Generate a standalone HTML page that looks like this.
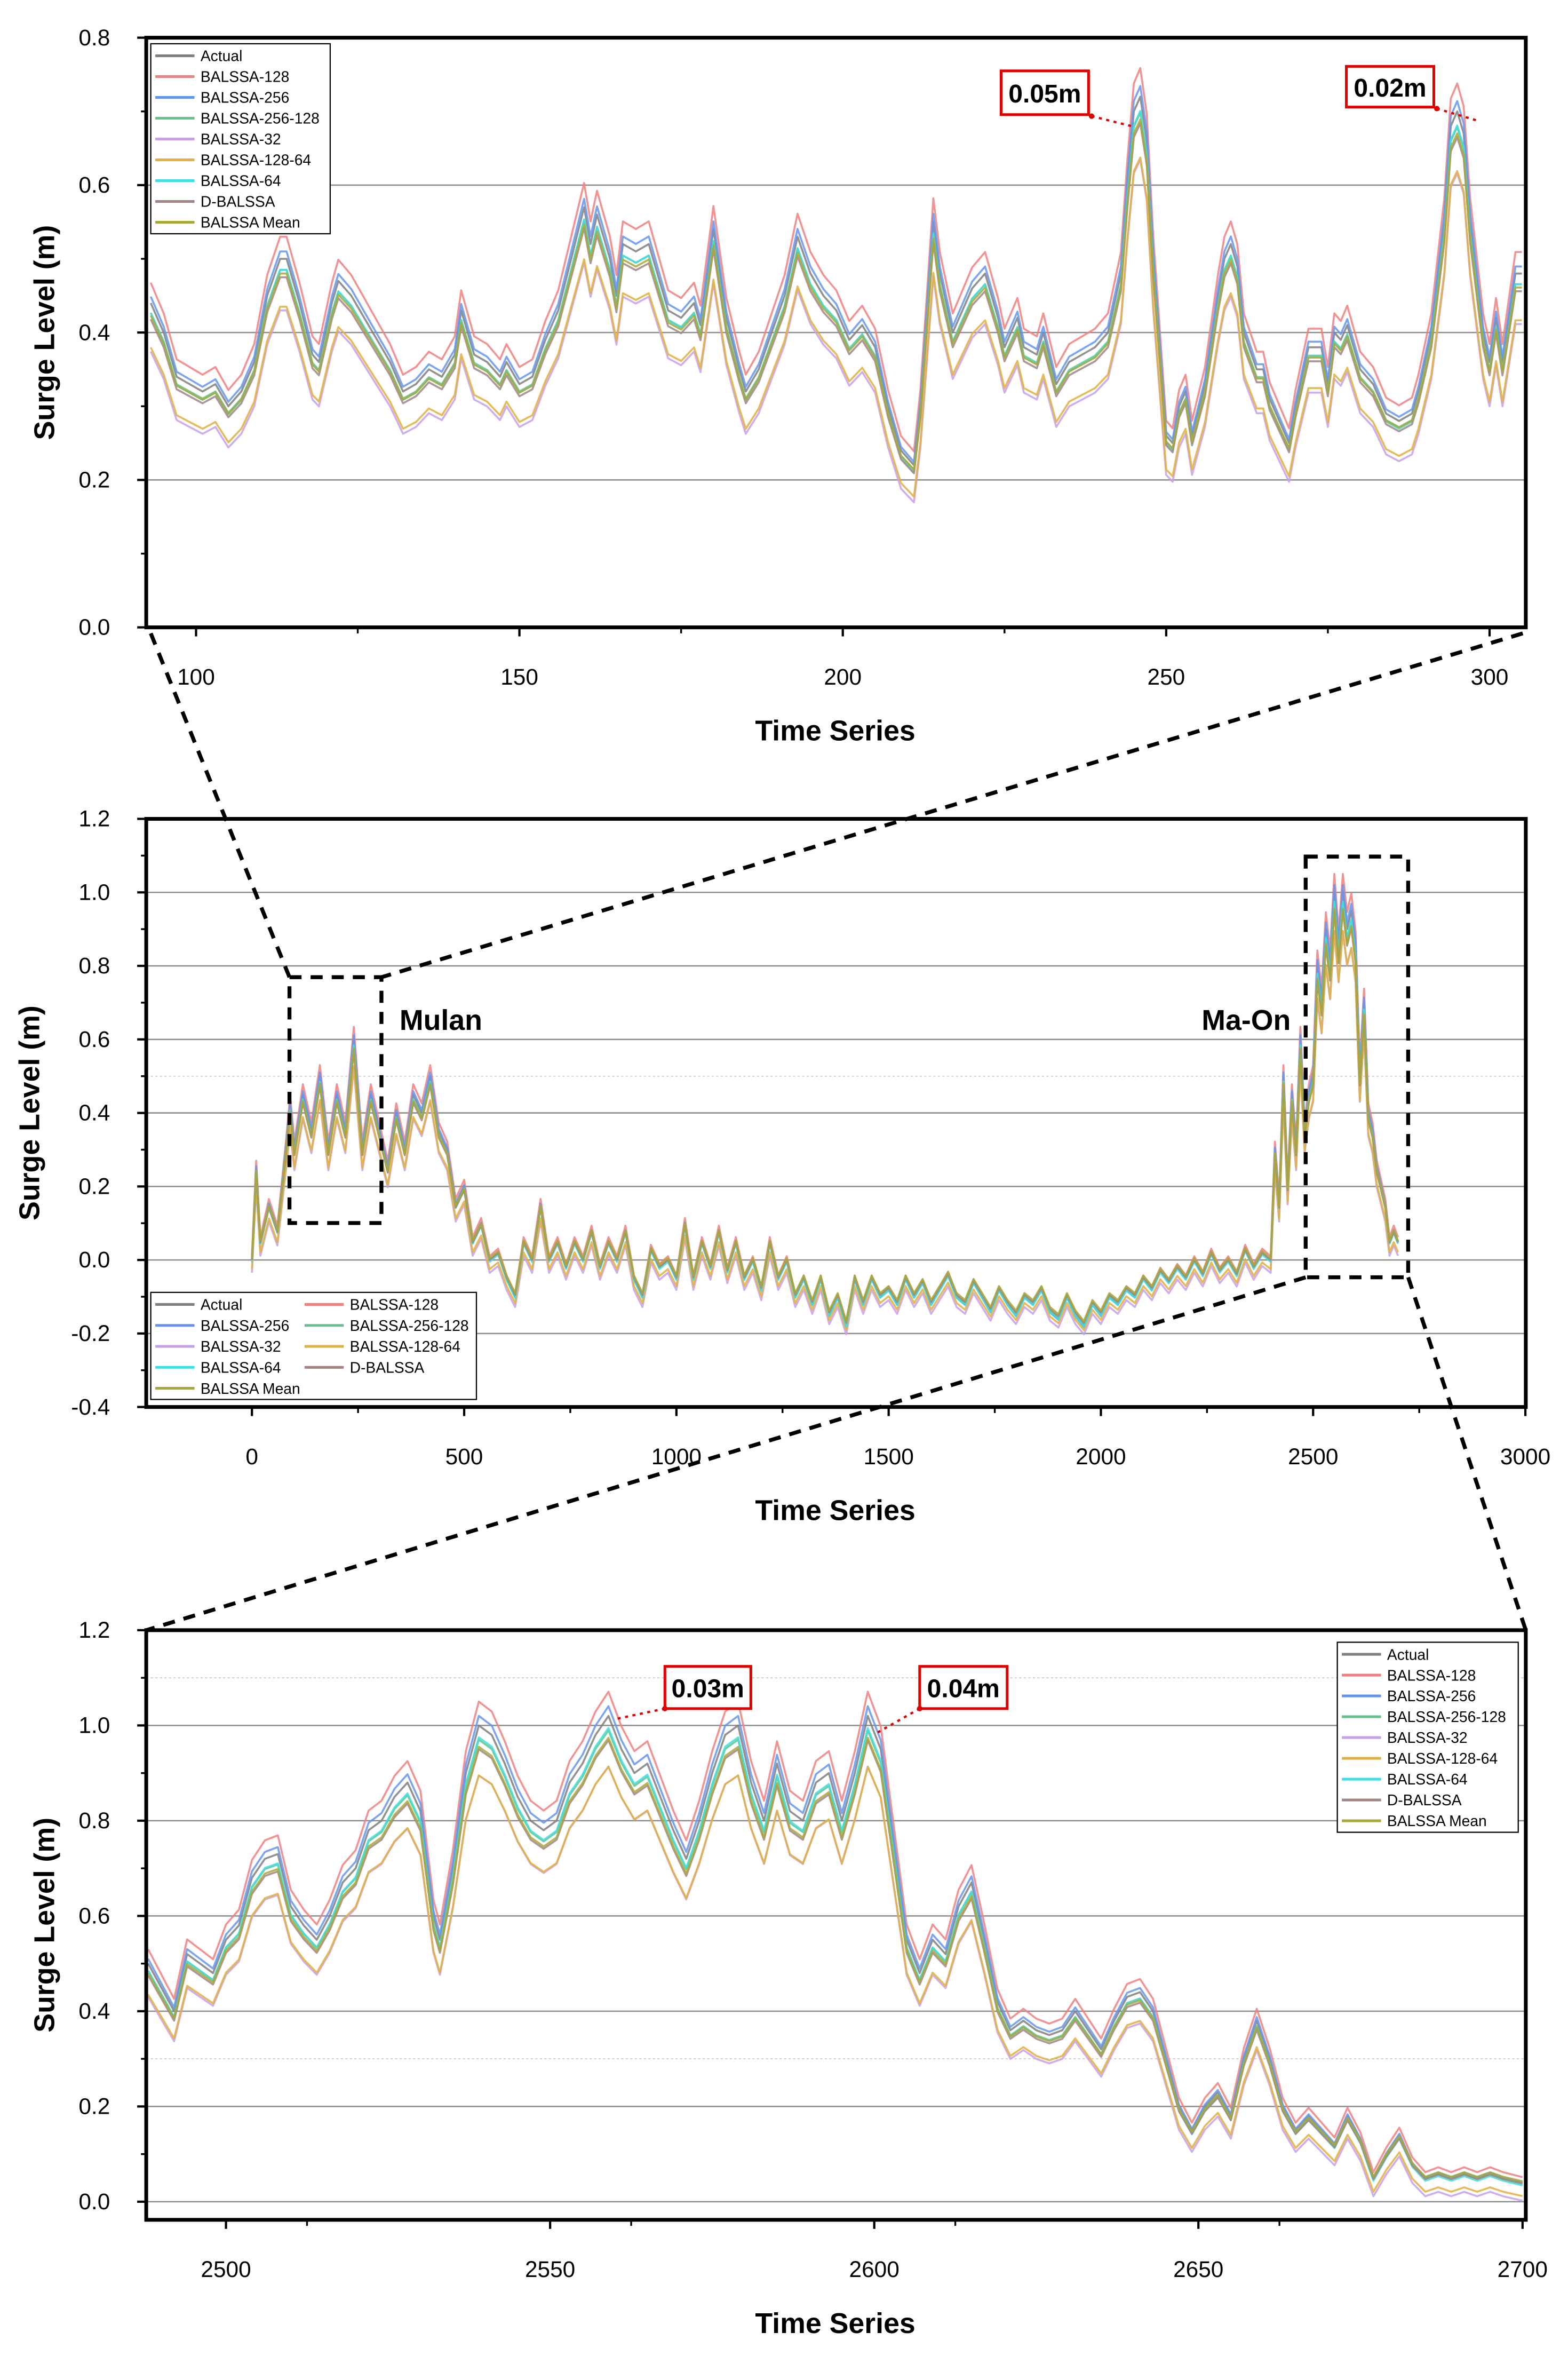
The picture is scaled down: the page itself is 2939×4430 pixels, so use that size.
<!DOCTYPE html>
<html><head><meta charset="utf-8">
<style>
html,body{margin:0;padding:0;background:#fff;}
svg{display:block;font-family:"Liberation Sans",Arial,sans-serif;}
</style></head>
<body>
<svg id="chart" width="2939" height="4430" viewBox="0 0 1040 1567.6" xmlns="http://www.w3.org/2000/svg"></svg>
<script>
// ---- data ----
const seriesNames = ["Actual","BALSSA-128","BALSSA-256","BALSSA-256-128","BALSSA-32","BALSSA-128-64","BALSSA-64","D-BALSSA","BALSSA Mean"];
const seriesColors = ["#7f7f7f","#f08080","#6495ed","#66c28a","#c8a0e8","#e0b040","#40dede","#a08585","#a8a838"];
const seriesScale = [1.00,1.04,1.02,0.97,0.93,0.92,0.98,0.95,0.95];
const seriesShift = [0.00,0.01,0.00,0.00,-0.035,-0.025,-0.005,0.00,0.005];

const topX = [93,95,97,99,101,103,105,107,109,111,113,114,116,118,119,121,122,124,126,128,130,132,134,136,138,140,141,143,145,147,148,150,152,154,156,158,160,161,162,164,165,166,168,170,172,173,175,177,178,180,182,184,185,187,189,191,192,193,195,197,199,201,203,205,207,209,211,212,214,215,217,218,220,222,224,225,227,228,230,231,233,235,237,239,241,243,244,245,246,247,248,250,251,252,253,254,256,258,259,260,261,262,264,265,266,268,269,270,272,274,275,276,277,278,280,282,284,286,288,289,291,293,294,295,296,297,299,300,301,302,304,305];
const topY = [0.44,0.40,0.34,0.33,0.32,0.33,0.30,0.32,0.36,0.45,0.50,0.50,0.44,0.37,0.36,0.44,0.47,0.45,0.42,0.39,0.36,0.32,0.33,0.35,0.34,0.37,0.43,0.37,0.36,0.34,0.36,0.33,0.34,0.39,0.43,0.50,0.57,0.52,0.56,0.50,0.45,0.52,0.51,0.52,0.46,0.43,0.42,0.44,0.41,0.54,0.42,0.35,0.32,0.35,0.40,0.45,0.49,0.53,0.48,0.45,0.43,0.39,0.41,0.38,0.30,0.24,0.22,0.30,0.55,0.48,0.40,0.42,0.46,0.48,0.42,0.38,0.42,0.38,0.37,0.40,0.33,0.36,0.37,0.38,0.40,0.48,0.60,0.70,0.72,0.66,0.50,0.26,0.25,0.30,0.32,0.26,0.33,0.45,0.50,0.52,0.49,0.40,0.35,0.35,0.31,0.27,0.25,0.30,0.38,0.38,0.33,0.40,0.39,0.41,0.35,0.33,0.29,0.28,0.29,0.32,0.40,0.55,0.68,0.70,0.67,0.55,0.40,0.36,0.42,0.36,0.48,0.48];

const midX = [0,10,20,40,60,80,90,100,120,140,160,180,200,220,240,260,280,300,320,340,360,380,400,420,440,460,480,500,520,540,560,580,600,620,640,660,680,700,720,740,760,780,800,820,840,860,880,900,920,940,960,980,1000,1020,1040,1060,1080,1100,1120,1140,1160,1180,1200,1220,1240,1260,1280,1300,1320,1340,1360,1380,1400,1420,1440,1460,1480,1500,1520,1540,1560,1580,1600,1620,1640,1660,1680,1700,1720,1740,1760,1780,1800,1820,1840,1860,1880,1900,1920,1940,1960,1980,2000,2020,2040,2060,2080,2100,2120,2140,2160,2180,2200,2220,2240,2260,2280,2300,2320,2340,2360,2380,2400,2410,2420,2430,2440,2450,2460,2470,2480,2490,2500,2510,2520,2530,2540,2550,2560,2570,2580,2590,2600,2610,2620,2630,2640,2650,2660,2670,2680,2690,2700];
const midY = [0.0,0.25,0.05,0.15,0.08,0.3,0.42,0.3,0.45,0.35,0.5,0.3,0.45,0.35,0.6,0.3,0.45,0.35,0.25,0.4,0.3,0.45,0.4,0.5,0.35,0.3,0.15,0.2,0.05,0.1,0.0,0.02,-0.05,-0.1,0.05,0.0,0.15,0.0,0.05,-0.02,0.05,0.0,0.08,-0.02,0.05,0.0,0.08,-0.05,-0.1,0.03,-0.02,0.0,-0.05,0.1,-0.05,0.05,-0.02,0.08,-0.03,0.05,-0.05,0.0,-0.08,0.05,-0.05,0.0,-0.1,-0.05,-0.12,-0.05,-0.15,-0.1,-0.18,-0.05,-0.12,-0.05,-0.1,-0.08,-0.12,-0.05,-0.1,-0.06,-0.12,-0.08,-0.04,-0.1,-0.12,-0.06,-0.1,-0.14,-0.08,-0.12,-0.15,-0.1,-0.12,-0.08,-0.14,-0.16,-0.1,-0.15,-0.18,-0.12,-0.15,-0.1,-0.12,-0.08,-0.1,-0.05,-0.08,-0.03,-0.06,-0.02,-0.05,0.0,-0.04,0.02,-0.03,0.0,-0.04,0.03,-0.02,0.02,0.0,0.3,0.15,0.5,0.2,0.45,0.3,0.6,0.35,0.45,0.5,0.8,0.7,0.9,0.8,1.0,0.85,1.0,0.9,0.95,0.85,0.5,0.7,0.4,0.35,0.25,0.2,0.15,0.05,0.08,0.05];

const botX = [2488,2490,2492,2494,2496,2498,2500,2502,2504,2506,2508,2510,2512,2514,2516,2518,2520,2522,2524,2526,2528,2530,2532,2533,2535,2537,2539,2541,2543,2545,2547,2549,2551,2553,2555,2557,2559,2561,2563,2565,2567,2569,2571,2573,2575,2577,2579,2581,2583,2585,2587,2589,2591,2593,2595,2597,2599,2601,2603,2605,2607,2609,2611,2613,2615,2617,2619,2621,2623,2625,2627,2629,2631,2633,2635,2637,2639,2641,2643,2645,2647,2649,2651,2653,2655,2657,2659,2661,2663,2665,2667,2669,2671,2673,2675,2677,2679,2681,2683,2685,2687,2689,2691,2693,2695,2697,2700];
const botY = [0.50,0.45,0.40,0.52,0.50,0.48,0.55,0.58,0.68,0.72,0.73,0.62,0.58,0.55,0.60,0.67,0.70,0.78,0.80,0.85,0.88,0.82,0.60,0.55,0.70,0.90,1.00,0.98,0.92,0.85,0.80,0.78,0.80,0.88,0.92,0.98,1.02,0.95,0.90,0.92,0.85,0.78,0.72,0.80,0.90,0.98,1.00,0.88,0.80,0.92,0.82,0.80,0.88,0.90,0.80,0.90,1.02,0.95,0.75,0.55,0.48,0.55,0.52,0.62,0.67,0.55,0.42,0.36,0.38,0.36,0.35,0.36,0.40,0.36,0.32,0.38,0.43,0.44,0.40,0.30,0.20,0.15,0.20,0.23,0.18,0.30,0.38,0.30,0.20,0.15,0.18,0.15,0.12,0.18,0.13,0.05,0.10,0.14,0.08,0.05,0.06,0.05,0.06,0.05,0.06,0.05,0.04];

const topYTicks = ["0.0","0.2","0.4","0.6","0.8"];
const topXTicks = ["100","150","200","250","300"];
const midYTicks = ["-0.4","-0.2","0.0","0.2","0.4","0.6","0.8","1.0","1.2"];
const midXTicks = ["0","500","1000","1500","2000","2500","3000"];
const botYTicks = ["0.0","0.2","0.4","0.6","0.8","1.0","1.2"];
const botXTicks = ["2500","2550","2600","2650","2700"];

// ---- drawing ----
const NS="http://www.w3.org/2000/svg";
const svg=document.getElementById('chart');
function mk(tag,attrs,parent){const e=document.createElementNS(NS,tag);for(const k in attrs)e.setAttribute(k,attrs[k]);(parent||svg).appendChild(e);return e;}

function panel(cfg){
  const g=mk('g',{});
  
  
  const L=97,R=1012,T=cfg.top,B=cfg.bottom;
  const sx=v=>L+(v-cfg.xmin)/(cfg.xmax-cfg.xmin)*(R-L);
  const sy=v=>B-(v-cfg.ymin)/(cfg.ymax-cfg.ymin)*(B-T);
  cfg.yTicks.forEach(t=>{const v=parseFloat(t);if(v>cfg.ymin&&v<cfg.ymax){const l=mk('line',{x1:L,x2:R,y1:sy(v),y2:sy(v),stroke:'#8c8c8c','stroke-width':0.9},g);}});
  (cfg.dotted||[]).forEach(v=>{const l=mk('line',{x1:L,x2:R,y1:sy(v),y2:sy(v),stroke:'#c8c8c8','stroke-width':0.6,'stroke-dasharray':'1.5,1.5'},g);});
  const clip=mk('clipPath',{id:cfg.name+'-clip'},g);mk('rect',{x:L,y:T,width:R-L,height:B-T},clip);
  const sg=mk('g',{'clip-path':'url(#'+cfg.name+'-clip)'},g);
  seriesNames.forEach((n,i)=>{
    let d='';cfg.xs.forEach((x,j)=>{const v=cfg.ys[j]*seriesScale[i]+seriesShift[i];d+=(j?'L':'M')+sx(x).toFixed(2)+','+sy(v).toFixed(2);});
    const p=mk('path',{d:d,fill:'none',stroke:seriesColors[i],'stroke-width':cfg.lw,'stroke-opacity':0.85,'stroke-linejoin':'round'},sg);
    
    
  });
  const f=mk('rect',{x:L,y:T,width:R-L,height:B-T,fill:'none',stroke:'#000','stroke-width':2.5},g);
  
  cfg.yTicks.forEach((t,k)=>{const v=parseFloat(t);const y=sy(v);
    mk('line',{x1:L-6,x2:L,y1:y,y2:y,stroke:'#000','stroke-width':1.5},g);
    if(k<cfg.yTicks.length-1){const y2=sy(v+cfg.yStep/2);mk('line',{x1:L-3.5,x2:L,y1:y2,y2:y2,stroke:'#000','stroke-width':1.2},g);}
    const tx=mk('text',{x:L-24,y:y+5,'text-anchor':'end','font-size':15},g);tx.textContent=t;
    });
  cfg.xTicks.forEach((t,k)=>{const v=parseFloat(t);const x=sx(v);
    if(x<=R+1){mk('line',{x1:x,x2:x,y1:B,y2:B+6,stroke:'#000','stroke-width':1.5},g);}
    const xm=sx(v+cfg.xStep/2);if(xm<R&&xm>L)mk('line',{x1:xm,x2:xm,y1:B,y2:B+4,stroke:'#000','stroke-width':1.2},g);
    const xm0=sx(v-cfg.xStep/2);if(k==0&&xm0>L)mk('line',{x1:xm0,x2:xm0,y1:B,y2:B+4,stroke:'#000','stroke-width':1.2},g);
    const tx=mk('text',{x:x,y:B+38,'text-anchor':'middle','font-size':15},g);tx.textContent=t;
    });
  const yt=mk('text',{x:0,y:0,transform:'translate('+cfg.ytx+','+((T+B)/2)+') rotate(-90)','text-anchor':'middle','font-size':19,'font-weight':'bold'},g);
  yt.textContent='Surge Level (m)';
  const xt=mk('text',{x:554,y:B+75,'text-anchor':'middle','font-size':19,'font-weight':'bold'},g);
  xt.textContent='Time Series';
  return {sx,sy};
}

function legend(x,y,w,h,cols,order,rowH,colW){
  const g=mk('g',{});
  
  
  mk('rect',{x:x,y:y,width:w,height:h,fill:'#fff',stroke:'#000','stroke-width':0.8},g);
  order.forEach((idx,k)=>{const c=k%cols,r=Math.floor(k/cols);const lx=x+3+c*colW,ly=y+8+r*rowH;
    const e=mk('g',{},g);
    mk('line',{x1:lx,x2:lx+26,y1:ly,y2:ly,stroke:seriesColors[idx],'stroke-width':1.8},e);
    const t=mk('text',{x:lx+30,y:ly+3.6,'font-size':10},e);t.textContent=seriesNames[idx];});
}

function annot(x,y,w,h,label,ax,ay,bx,by){
  const g=mk('g',{});
  
  
  mk('rect',{x:x,y:y,width:w,height:h,fill:'#fff',stroke:'#e00000','stroke-width':1.8},g);
  const t=mk('text',{x:x+w/2,y:y+h/2+6.5,'text-anchor':'middle','font-size':17,'font-weight':'bold'},g);t.textContent=label;
  mk('line',{x1:ax,y1:ay,x2:bx,y2:by,stroke:'#e00000','stroke-width':1.5,'stroke-dasharray':'2,3'},g);
  mk('circle',{cx:ax,cy:ay,r:1.8,fill:'#e00000'},g);
}

const all=[0,1,2,3,4,5,6,7,8];
panel({name:'top-panel',top:25,bottom:416,xmin:92.3,xmax:305.6,ymin:0,ymax:0.8,xs:topX,ys:topY,yTicks:topYTicks,xTicks:topXTicks,yStep:0.2,xStep:50,ytx:36,lw:1.3});
legend(100,29,119,126,1,all,13.8,0);
annot(664,47,58,29,'0.05m',724,77,752,84);
annot(893,44,58,27,'0.02m',953,72,980,80);

panel({name:'middle-panel',top:543,bottom:933,xmin:-249,xmax:3001,ymin:-0.4,ymax:1.2,xs:midX,ys:midY,yTicks:midYTicks,xTicks:midXTicks,yStep:0.2,xStep:500,ytx:26,lw:1.3,dotted:[0.5]});
legend(100,857,216,71,2,[0,1,2,3,4,5,6,7,8],13.9,99);
const lab1=mk('text',{x:265,y:683,'font-size':19,'font-weight':'bold'});lab1.textContent='Mulan';

const lab2=mk('text',{x:797,y:683,'font-size':19,'font-weight':'bold'});lab2.textContent='Ma-On';


panel({name:'bottom-panel',top:1081,bottom:1472,xmin:2487.7,xmax:2700.5,ymin:-0.038,ymax:1.2,xs:botX,ys:botY,yTicks:botYTicks,xTicks:botXTicks,yStep:0.2,xStep:25,ytx:36,lw:1.3,dotted:[1.1,0.3]});
legend(887,1089,120,126,1,all,13.8,0);
annot(441,1105,57,28,'0.03m',441,1133,408,1140);
annot(610,1105,58,28,'0.04m',610,1133,580,1150);

const zg=mk('g',{fill:'none',stroke:'#000','stroke-width':2.6,'stroke-dasharray':'8,6'});


mk('rect',{x:192,y:648,width:61,height:163},zg);
mk('rect',{x:866,y:568,width:68,height:279},zg);
mk('line',{x1:100,y1:420,x2:192,y2:648},zg);
mk('line',{x1:1010,y1:420,x2:253,y2:648},zg);
mk('line',{x1:866,y1:847,x2:97,y2:1081},zg);
mk('line',{x1:934,y1:847,x2:1012,y2:1081},zg);
</script>
</body></html>
